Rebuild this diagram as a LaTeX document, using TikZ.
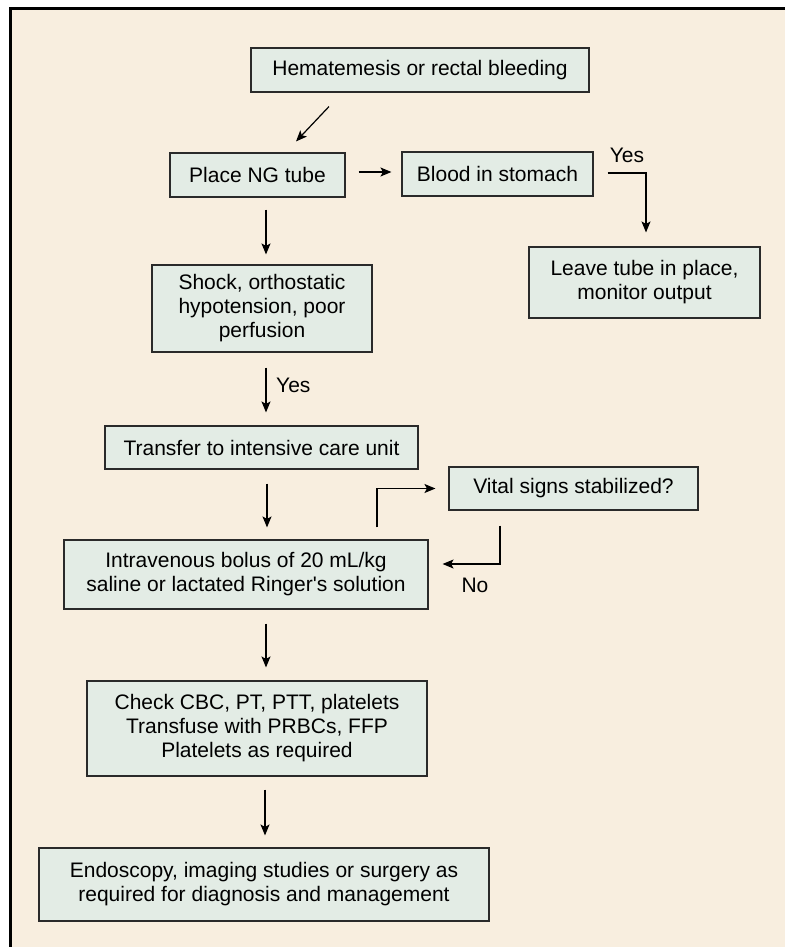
\documentclass[tikz,border=0pt]{standalone}
\usepackage{fontspec}
\setmainfont{Liberation Sans}
\newfontfamily\libsans{Liberation Sans}
\usetikzlibrary{arrows.meta,calc}
\definecolor{bg}{HTML}{F8EEDF}
\definecolor{boxfill}{HTML}{E3ECE5}
\definecolor{edge}{HTML}{2A2A2A}
\begin{document}
\begin{tikzpicture}[x=1pt,y=-1pt,
  box/.style={draw=edge, fill=boxfill, line width=1.1pt, inner sep=0pt, align=center,
    font=\libsans\fontsize{21pt}{24pt}\selectfont},
  arr/.style={draw=black, line width=1.2pt, -{Stealth[length=11pt,width=9pt,inset=2.5pt]}},
  lbl/.style={font=\libsans\fontsize{21pt}{24pt}\selectfont, inner sep=0pt}]
% page and frame
\fill[white] (0,0) rectangle (785,947);
\useasboundingbox (0,0) rectangle (785,947);
\fill[bg] (10.5,9) rectangle (785,947);
\draw[line width=3pt, black] (10.5,947) -- (10.5,9) -- (785,9);
% nodes
\node[box, minimum width=338pt, minimum height=44pt] (hem) at (420,70) {Hematemesis or rectal bleeding};
\node[box, minimum width=175pt, minimum height=44pt] (ng) at (257.5,175) {Place NG tube};
\node[box, minimum width=191pt, minimum height=44pt] (blood) at (497.5,174) {Blood in stomach};
\node[box, minimum width=231pt, minimum height=71pt] (leave) at (644.5,282.5) {Leave tube in place,\\monitor output};
\node[box, minimum width=220pt, minimum height=87pt] (shock) at (262,308.5) {Shock, orthostatic\\hypotension, poor\\perfusion};
\node[box, minimum width=313pt, minimum height=43pt] (transfer) at (261.5,447.5) {Transfer to intensive care unit};
\node[box, minimum width=249pt, minimum height=43pt] (vital) at (573.5,488.5) {Vital signs stabilized?};
\node[box, minimum width=364pt, minimum height=69pt] (iv) at (246,574.5) {Intravenous bolus of 20 mL/kg\\saline or lactated Ringer's solution};
\node[box, minimum width=340pt, minimum height=95pt] (check) at (257,728.5) {Check CBC, PT, PTT, platelets\\Transfuse with PRBCs, FFP\\Platelets as required};
\node[box, minimum width=450pt, minimum height=73pt] (endo) at (264,884.5) {Endoscopy, imaging studies or surgery as\\required for diagnosis and management};
% labels
\node[lbl] (yes1) at (627,155) {Yes};
\node[lbl, anchor=west] (yes2) at (276,385) {Yes};
\node[lbl] (no) at (475,585) {No};
% connectors
\draw[arr] ($(hem.south)+(-91,14)$) -- ($(ng.north)+(38.5,-11)$);
\draw[arr] ($(ng.east)+(13,-3)$) -- ($(blood.west)+(-10,-2)$);
\draw[arr] ($(ng.south)+(8.5,12)$) -- ($(shock.north)+(4,-10)$);
\draw[arr] ($(blood.east)+(14,-1)$) -| ($(leave.north)+(1.5,-14)$);
\draw[arr] ($(shock.south)+(4,15)$) -- ($(transfer.north)+(4.5,-13)$);
\draw[arr] ($(transfer.south)+(5.5,14)$) -- ($(iv.north)+(21,-12)$);
\draw[arr] ($(iv.north)+(131,-12)$) |- ($(vital.west)+(-13,0)$);
\draw[arr] ($(vital.south)+(-73.5,15)$) |- ($(iv.east)+(14,-10.5)$);
\draw[arr] ($(iv.south)+(20,14)$) -- ($(check.north)+(9,-13)$);
\draw[arr] ($(check.south)+(8,13)$) -- ($(endo.north)+(1,-12)$);
\end{tikzpicture}
\end{document}
